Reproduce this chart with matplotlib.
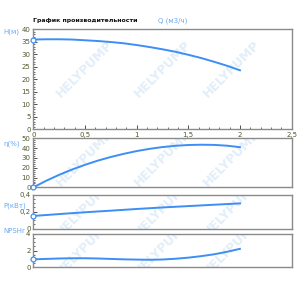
import matplotlib
matplotlib.use("Agg")
import matplotlib.pyplot as plt
import numpy as np
from matplotlib.ticker import MultipleLocator, FuncFormatter

# data
q = [0, 0.125, 0.25, 0.375, 0.5, 0.625, 0.75, 0.875, 1.0,
     1.125, 1.25, 1.375, 1.5, 1.625, 1.75, 1.875, 2.0]
head = [35.9, 36.0, 36.0, 35.9, 35.6, 35.3, 34.9, 34.4, 33.7,
        32.9, 32.0, 31.0, 29.8, 28.5, 27.0, 25.4, 23.6]
eff = [0, 6.8, 12.8, 18.2, 23.0, 27.3, 31.0, 34.2, 37.0,
       39.3, 41.1, 42.4, 43.2, 43.5, 43.3, 42.5, 41.0]
power = [0.150, 0.161, 0.172, 0.183, 0.193, 0.203, 0.212, 0.222, 0.232,
         0.241, 0.250, 0.258, 0.266, 0.274, 0.282, 0.290, 0.298]
npsh = [0.95, 1.0, 1.05, 1.08, 1.08, 1.05, 1.0, 0.95, 0.92,
        0.9, 0.93, 1.02, 1.15, 1.33, 1.55, 1.85, 2.2]

x_ticks = [0, 0.5, 1, 1.5, 2, 2.5]

blue = '#3d8ef5'
lblue = '#6aaaf5'
tick_col = '#4e5a30'
frame_col = '#8a8a8a'

fig = plt.figure(figsize=(3, 2.87), dpi=100)

comma = FuncFormatter(lambda v, p: ('%g' % v).replace('.', ','))

panels = [
    # (left, bottom, width, height), data, ylim, major, minor
    ([0.111, 0.5495, 0.861, 0.3485], head, 40, 5, 1),
    ([0.111, 0.347, 0.861, 0.171], eff, 50, 10, 2),
    ([0.111, 0.2031, 0.861, 0.1185], power, 0.4, 0.2, 0.05),
    ([0.111, 0.0686, 0.861, 0.117], npsh, 4, 2, 0.5),
]

for i, (rect, vals, ymax, maj, mnr) in enumerate(panels):
    ax = fig.add_axes(rect)
    ax.set_xlim(0, 2.5)
    ax.set_ylim(0, ymax)
    ax.yaxis.set_major_locator(MultipleLocator(maj))
    ax.yaxis.set_minor_locator(MultipleLocator(mnr))
    ax.yaxis.set_major_formatter(comma)
    ax.tick_params(axis='y', which='both', direction='in', labelsize=5,
                   labelcolor=tick_col, color='#333333', pad=2)
    ax.tick_params(axis='y', which='major', length=3, width=0.6)
    ax.tick_params(axis='y', which='minor', length=1.5, width=0.5)
    if i == 0:
        ax.set_xticks(x_ticks)
        ax.xaxis.set_minor_locator(MultipleLocator(0.1))
        ax.xaxis.set_major_formatter(comma)
        ax.tick_params(axis='x', which='both', direction='in', labelsize=5,
                       labelcolor=tick_col, color='#333333', pad=2)
        ax.tick_params(axis='x', which='major', length=3, width=0.6)
        ax.tick_params(axis='x', which='minor', length=1.5, width=0.5)
    else:
        ax.set_xticks([])
    for s in ax.spines.values():
        s.set_color(frame_col)
        s.set_linewidth(1.0)
    # faint watermark
    for xw in [0.2, 0.5, 0.77]:
        ax.text(xw, 0.6, 'HELYPUMP', transform=ax.transAxes, rotation=45,
                fontsize=9, fontweight='bold', color='#e2eef9',
                ha='center', va='center', zorder=0, clip_on=True)
    ax.plot(q, vals, color=blue, lw=1.4, zorder=3)
    ax.plot(q[0], vals[0], 'o', ms=3.5, mfc='white', mec=blue, mew=0.9,
            zorder=4, clip_on=False)

fig.text(0.111, 0.927, 'График производительности', fontsize=4.5,
         fontweight='bold', color='#111111', va='center')
fig.text(0.527, 0.927, 'Q (м3/ч)', fontsize=5, color=lblue, va='center')
fig.text(0.01, 0.889, 'H(м)', fontsize=5, color=lblue, va='center')
fig.text(0.01, 0.498, 'η(%)', fontsize=5, color=lblue, va='center')
fig.text(0.01, 0.283, 'P(кВт)', fontsize=5, color=lblue, va='center')
fig.text(0.01, 0.195, 'NPSHr', fontsize=5, color=lblue, va='center')

fig.savefig('out.png', dpi=100)
